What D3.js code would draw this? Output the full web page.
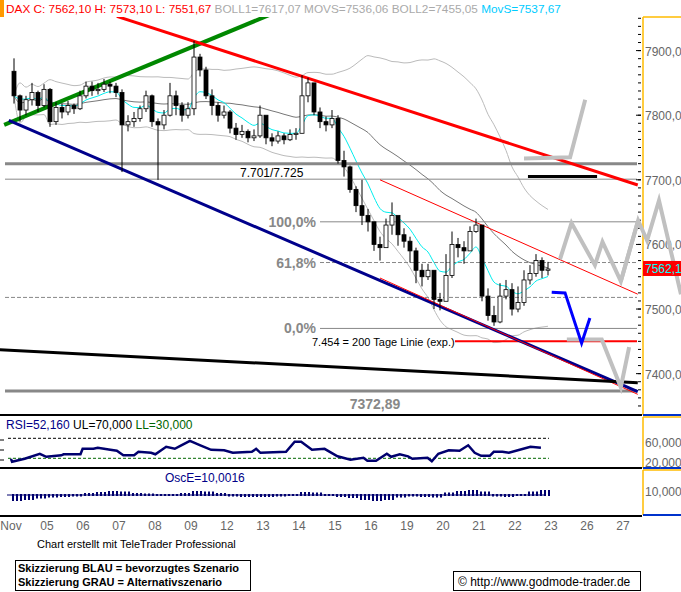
<!DOCTYPE html>
<html><head><meta charset="utf-8">
<script src="https://cdn.jsdelivr.net/npm/d3@7/dist/d3.min.js"></script>
<style>body{margin:0;background:#fff}svg{font-family:"Liberation Sans",Arial,sans-serif}</style>
</head><body><svg id="c" width="681" height="592"></svg>
<script>
const dayLabels=["Nov","05","06","07","08","09","12","13","14","15","16","19","20","21","22","23","26","27"];
const firstOpen=7868;
const closes=[7830,7808,7824,7835,7815,7840, 7790,7812,7805,7815,7810,7830, 7845,7838,7840,7848,7845,7835,
 7785,7790,7795,7810,7830,7790, 7785,7800,7830,7815,7800,7810, 7890,7870,7830,7815,7800,7805,
 7780,7770,7775,7765,7768,7800, 7765,7760,7768,7762,7770,7772, 7830,7850,7805,7790,7785,7795,
 7730,7720,7685,7660,7645,7635, 7600,7595,7630,7645,7615,7605, 7590,7560,7550,7560,7515,7512,
 7552,7600,7595,7590,7620,7630, 7520,7490,7480,7520,7530,7500, 7510,7545,7555,7575,7560,7562];
const highs=[7888,7832,7830,7850,7838,7848, 7842,7820,7818,7822,7818,7838, 7852,7852,7850,7856,7852,7850,
 7840,7800,7805,7815,7838,7832, 7795,7808,7850,7838,7820,7820, 7915,7895,7875,7840,7820,7815,
 7808,7788,7785,7778,7778,7815, 7776,7772,7775,7772,7778,7780, 7862,7858,7850,7812,7798,7808,
 7800,7745,7722,7690,7700,7655, 7625,7612,7640,7665,7628,7625, 7612,7595,7570,7570,7560,7525,
 7585,7620,7610,7605,7628,7640, 7575,7532,7505,7540,7545,7540, 7535,7560,7568,7585,7580,7573];
const lows=[7818,7790,7800,7815,7805,7812, 7782,7785,7795,7800,7802,7808, 7826,7830,7832,7836,7834,7828,
 7712,7775,7782,7790,7805,7782, 7700,7778,7798,7800,7790,7795, 7800,7860,7825,7800,7790,7795,
 7772,7762,7765,7758,7760,7765, 7755,7752,7756,7755,7760,7762, 7772,7820,7800,7780,7775,7780,
 7725,7705,7680,7650,7630,7620, 7590,7575,7595,7615,7598,7595, 7572,7540,7535,7545,7500,7498,
 7545,7548,7580,7570,7590,7618, 7512,7482,7474,7478,7515,7490, 7495,7505,7538,7550,7548,7552];
const rsiT=[0,0.03,0.38,0.8,0.98,1.4,1.46,1.93,1.99,2.29,2.41,2.76,2.94,3.12,3.42,3.54,3.89,4.01,4.31,4.55,4.73,4.97,5.26,5.56,5.92,6.16,6.69,6.81,6.93,7.64,7.88,8.06,8.36,8.71,9.07,9.43,9.79,9.9,10.14,10.44,10.56,10.8,11.03,11.15,11.57,11.69,11.87,12.16,12.46,12.7,12.88,13.06,13.3,13.41,13.65,13.83,14.13,14.43,14.72];
const rsiV=[29,23,29,39,33,36,38,38,49,49,51,47,45,36,36,43,41,38,53,49,56,65,56,47,46,41,43,49,41,43,63,63,47,49,34,27,31,25,25,39,33,38,34,29,31,24,39,46,45,56,41,35,35,43,43,41,47,53,51];
const osc=[-10,-8,-5,-3,-2,-1,2,4,6,5,2,1,0,0,2,6,5,2,-1,-2,-2,-2,-1,0,4,3,0,-2,-4,-8,-10,-8,-3,-1,-2,-3,3,6,8,5,-1,-2,0,5,8];
const priceTicks=[7900,7800,7700,7600,7500,7400];
const levels={l7725:7725,l7701:7701,p100:7635,p618:7572,mid:7518,p0:7470,ma200:7450,low:7373};

const svg=d3.select("#c");
const x=d3.scaleLinear().domain([0,17]).range([11,623]);
const y=d3.scaleLinear().domain([7336,7952]).range([415,17]);
const yR=d3.scaleLinear().domain([30,70]).range([458.3,438.3]);
const yO=d3.scaleLinear().domain([0,10]).range([495,490]);
const PR=642;
const candles=closes.map((c,i)=>({t:Math.floor(i/6)+((i%6)+0.5)/6,o:i?closes[i-1]:firstOpen,c,h:highs[i],l:lows[i]}));

svg.append("rect").attr("x",0).attr("y",0).attr("width",4).attr("height",17).attr("fill","#f90");
const hd=svg.append("text").attr("x",6).attr("y",13).attr("font-size",11.8);
hd.append("tspan").attr("fill","#f00").text("DAX C: 7562,10 H: 7573,10 L: 7551,67 ");
hd.append("tspan").attr("fill","#aaa").text("BOLL1=7617,07 MOVS=7536,06 BOLL2=7455,05 ");
hd.append("tspan").attr("fill","#0cf").text("MovS=7537,67");

const main=svg.append("g");
main.append("clipPath").attr("id","cl").append("rect").attr("x",0).attr("y",17).attr("width",PR).attr("height",398);
const g=main.append("g").attr("clip-path","url(#cl)");

const N=30, bu=[],bl=[],ma=[],ema=[];
let e=closes[0];
closes.forEach((c,i)=>{const s=closes.slice(Math.max(0,i-N+1),i+1);const m=d3.mean(s),sd=d3.deviation(s)||0;
 ma.push(m);bu.push(m+2*sd);bl.push(m-2*sd);e=e+(c-e)*2/9;ema.push(e);});
const ln=arr=>d3.line().x((d,i)=>x(candles[i].t)).y(d=>y(d)).curve(d3.curveMonotoneX)(arr);
g.append("path").attr("d",ln(bu)).attr("fill","none").attr("stroke","#bbb");
g.append("path").attr("d",ln(bl)).attr("fill","none").attr("stroke","#bbb");
g.append("path").attr("d",ln(ma)).attr("fill","none").attr("stroke","#777");
g.append("path").attr("d",ln(ema)).attr("fill","none").attr("stroke","#0ee");

const hl=(v,x0,x1,col,w,dash)=>g.append("line").attr("x1",x0).attr("x2",x1).attr("y1",y(v)).attr("y2",y(v)).attr("stroke",col).attr("stroke-width",w).attr("stroke-dasharray",dash||null);
hl(levels.l7725,5,637,"#888",3);
hl(levels.l7701,5,637,"#888",1);
hl(levels.p100,320,637,"#888",1);
hl(levels.p618,320,637,"#888",1,"4,2");
hl(levels.mid,5,637,"#888",1,"4,2");
hl(levels.p0,320,637,"#888",1);
hl(levels.low,5,637,"#888",3);
hl(levels.ma200,455,637,"#f00",2);

const tl=(a,b,col,w)=>g.append("line").attr("x1",x(a[0])).attr("y1",y(a[1])).attr("x2",x(b[0])).attr("y2",y(b[1])).attr("stroke",col).attr("stroke-width",w);
tl([-0.19,7785],[7.17,7955],"#080",4);
tl([2.94,7953],[17.41,7692],"#f00",3);
tl([-0.06,7792],[17.41,7372],"#00008b",3);
tl([10.25,7548],[17.41,7368],"#f00",1);
tl([10.25,7700],[17.41,7523],"#f00",1);
tl([-0.31,7437],[17.41,7386],"#000",3);
tl([14.36,7705],[16.28,7705],"#000",3);

candles.forEach(d=>{const cx=x(d.t);
 g.append("line").attr("x1",cx).attr("x2",cx).attr("y1",y(d.h)).attr("y2",y(d.l)).attr("stroke","#000");
 const up=d.c>=d.o;g.append("rect").attr("x",cx-2).attr("width",4).attr("y",y(Math.max(d.o,d.c))).attr("height",Math.max(1,Math.abs(y(d.o)-y(d.c)))).attr("fill",up?"#fff":"#000").attr("stroke","#000").attr("stroke-width",0.8);});

const sk=(pts,col,w)=>svg.append("path").attr("d",d3.line().x(p=>x(p[0])).y(p=>y(p[1]))(pts)).attr("fill","none").attr("stroke",col).attr("stroke-width",w);
sk([[14.25,7733],[15.53,7735],[15.95,7824]],"#c0c0c0",4);
sk([[15.25,7577],[15.57,7633],[16.22,7568],[16.43,7604],[16.94,7543],[17.42,7637]],"#c0c0c0",4);
sk([[15.44,7453],[16.41,7453],[16.94,7379],[17.17,7441]],"#c0c0c0",4);
sk([[15.02,7526],[15.39,7525],[15.85,7447],[16.08,7486]],"#00f",3);

const tx=(s,xx,yy,o)=>svg.append("text").attr("x",xx).attr("y",yy).attr("font-size",(o&&o.fs)||12).attr("fill",(o&&o.fill)||"#000").attr("text-anchor",(o&&o.a)||"start").attr("font-weight",(o&&o.fw)||"normal").text(s);
tx("7.701/7.725",240,177);
tx("100,0%",316,227,{a:"end",fs:14,fw:"bold",fill:"#888"});
tx("61,8%",316,268,{a:"end",fs:14,fw:"bold",fill:"#888"});
tx("0,0%",316,333,{a:"end",fs:14,fw:"bold",fill:"#888"});
tx("7.454 = 200 Tage Linie (exp.)",312,346,{fs:11});
tx("7372,89",375,409,{a:"middle",fs:14,fw:"bold",fill:"#888"});

[[17,415],[417,468],[470,515]].forEach(([a,b])=>{
 svg.append("line").attr("x1",643).attr("x2",643).attr("y1",a).attr("y2",b).attr("stroke","#fb0").attr("stroke-width",1.5);
 svg.append("line").attr("x1",643).attr("x2",681).attr("y1",a).attr("y2",a).attr("stroke","#fb0").attr("stroke-width",1.5);
 svg.append("line").attr("x1",643).attr("x2",681).attr("y1",b).attr("y2",b).attr("stroke","#03c").attr("stroke-width",2);});
d3.range(7350,7951,12.5).forEach(v=>svg.append("line").attr("x1",638).attr("x2",641).attr("y1",y(v)).attr("y2",y(v)).attr("stroke","#000"));
priceTicks.forEach(v=>{svg.append("line").attr("x1",636).attr("x2",641).attr("y1",y(v)).attr("y2",y(v)).attr("stroke","#000");
 tx(d3.format(".2f")(v).replace(".",","),645,y(v)+5,{fill:"#666"});});
sk([[16.94,7543],[17.42,7637],[17.67,7606],[18,7668],[18.61,7523]],"#c0c0c0",4);
svg.append("rect").attr("x",643).attr("y",y(7562)-8).attr("width",38).attr("height",15).attr("fill","#f00");
tx("7562,10",645,y(7562)+4,{fill:"#0ff"});

[415,468,516].forEach(v=>svg.append("line").attr("x1",0).attr("x2",PR).attr("y1",v).attr("y2",v).attr("stroke","#000").attr("stroke-width",2));

const rl=svg.append("text").attr("x",6).attr("y",429).attr("font-size",12);
rl.append("tspan").attr("fill","#008").text("RSI=52,160 ");rl.append("tspan").attr("fill","#000").text("UL=70,000 ");rl.append("tspan").attr("fill","#060").text("LL=30,000");
svg.append("line").attr("x1",8).attr("x2",549).attr("y1",yR(70)).attr("y2",yR(70)).attr("stroke","#000").attr("stroke-dasharray","3,2");
svg.append("line").attr("x1",8).attr("x2",549).attr("y1",yR(30)).attr("y2",yR(30)).attr("stroke","#060").attr("stroke-dasharray","3,2");
svg.append("path").attr("d",d3.line().x((d,i)=>x(rsiT[i])).y(d=>yR(d))(rsiV)).attr("fill","none").attr("stroke","#00006e").attr("stroke-width",2.5);
[[60,"60,0000"],[20,"20,0000"]].forEach(([v,s])=>tx(s,645,yR(v)+4,{fill:"#666"}));
[440,450,460].forEach(v=>svg.append("line").attr("x1",0).attr("x2",4).attr("y1",v).attr("y2",v).attr("stroke","#000"));

tx("OscE=10,0016",165,482,{fill:"#008"});
svg.append("line").attr("x1",x(0)-4).attr("x2",x(15)-6).attr("y1",yO(0)).attr("y2",yO(0)).attr("stroke","#00006e");
osc.forEach((v,i)=>{[0,1,2].forEach(k=>{const cx=x(i/3)+2+k*4;
 svg.append("rect").attr("x",cx-1).attr("width",2).attr("y",Math.min(yO(v),yO(0))-1).attr("height",Math.abs(yO(v)-yO(0))+2).attr("fill","#00006e");});});
tx("10,0000",645,496,{fill:"#666"});

dayLabels.forEach((s,i)=>tx(s,x(i),530,{a:"middle",fill:"#666"}));
tx("Chart erstellt mit TeleTrader Professional",37,548,{fs:11});
svg.append("rect").attr("x",15.5).attr("y",560.5).attr("width",235).attr("height",30).attr("fill","none").attr("stroke","#000");
tx("Skizzierung BLAU = bevorzugtes Szenario",18,572,{fs:11,fw:"bold"});
tx("Skizzierung GRAU = Alternativszenario",18,586,{fs:11,fw:"bold"});
svg.append("rect").attr("x",453.5).attr("y",571.5).attr("width",187).attr("height",19).attr("fill","none").attr("stroke","#000");
tx("© http://www.godmode-trader.de",458,586,{fs:12});
</script></body></html>
